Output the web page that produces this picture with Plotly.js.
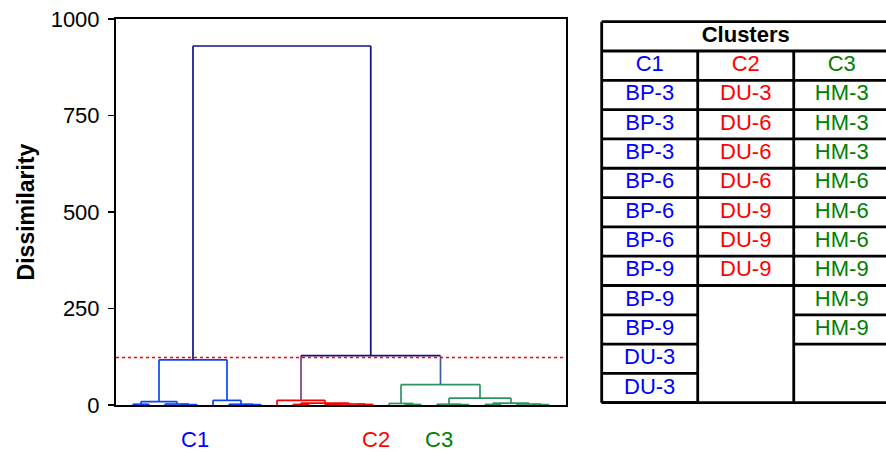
<!DOCTYPE html>
<html><head><meta charset="utf-8">
<script src="https://cdn.plot.ly/plotly-3.0.1.min.js"></script>
<style>html,body{margin:0;padding:0;background:#fff}#chart{width:886px;height:452px}</style>
</head><body><div id="chart"></div>
<script>
// ---- Dendrogram data (agglomerative linkage: node 27+i is merge i) ----
const leafCount = 27;
const mergeLeft   = [0, 3, 2, 27, 7, 6, 5, 30, 10, 12, 14, 36, 35, 9, 17, 16, 20, 19, 25, 24, 22, 47, 44, 42, 40, 34];
const mergeRight  = [1, 4, 28, 29, 8, 31, 32, 33, 11, 13, 15, 37, 38, 39, 18, 41, 21, 43, 26, 45, 23, 46, 48, 49, 50, 51];
const mergeHeight = [2, 1, 2.5, 9, 1, 2, 12, 117, 1.5, 1, 1.5, 2.5, 5, 12, 1.5, 4, 1, 2, 1, 2.5, 1.5, 5, 18, 53, 128, 930];
const cutHeight = 123;
const yTicks = [0, 250, 500, 750, 1000];

// ---- Cluster table data ----
const clusterNames = ['C1', 'C2', 'C3'];
const clusterC1 = ['BP-3','BP-3','BP-3','BP-6','BP-6','BP-6','BP-9','BP-9','BP-9','DU-3','DU-3'];
const clusterC2 = ['DU-3','DU-6','DU-6','DU-6','DU-9','DU-9','DU-9'];
const clusterC3 = ['HM-3','HM-3','HM-3','HM-6','HM-6','HM-6','HM-9','HM-9','HM-9'];
const tableTitle = 'Clusters';

// ---- styles ----
const FONT = 'Liberation Sans, Arial, sans-serif';
const linkColors = ['#0a46f0', '#ff0000', '#2e9462'];
const textColors = ['#0000ff', '#ff0000', '#008000'];
const legTint = ['#10108a', '#7b3f8c', '#3e5e9a'];
const navy = '#10108a';

// ---- compute dendrogram geometry ----
const nNodes = leafCount + mergeHeight.length;
const nodeX = [], nodeH = [], parent = new Array(nNodes).fill(-1);
for (let i = 0; i < leafCount; i++) { nodeX[i] = i; nodeH[i] = 0; }
mergeHeight.forEach((h, i) => {
  const id = leafCount + i, l = mergeLeft[i], r = mergeRight[i];
  nodeX[id] = (nodeX[l] + nodeX[r]) / 2; nodeH[id] = h;
  parent[l] = id; parent[r] = id;
});
const rootId = nNodes - 1;
let roots = [];
for (let id = 0; id < nNodes; id++) {
  if (nodeH[id] < cutHeight && parent[id] >= 0 && nodeH[parent[id]] >= cutHeight) roots.push(id);
}
roots.sort((a, b) => nodeX[a] - nodeX[b]);
const nodeCluster = new Array(nNodes).fill(-1);
function mark(id, c) {
  nodeCluster[id] = c;
  if (id >= leafCount) { const i = id - leafCount; mark(mergeLeft[i], c); mark(mergeRight[i], c); }
}
roots.forEach((r, c) => mark(r, c));

const segs = {};
function addSeg(color, xs, ys) {
  if (!segs[color]) segs[color] = {x: [], y: []};
  segs[color].x.push(...xs, null); segs[color].y.push(...ys, null);
}
mergeHeight.forEach((h, i) => {
  const id = leafCount + i, l = mergeLeft[i], r = mergeRight[i];
  const below = h < cutHeight;
  const barColor = below ? linkColors[nodeCluster[id]] : navy;
  const legColor = (c) => {
    if (below) return linkColors[nodeCluster[id]];
    const k = roots.indexOf(c);
    if (k >= 0 && id !== rootId) return legTint[k];
    return navy;
  };
  addSeg(legColor(l), [nodeX[l], nodeX[l]], [nodeH[l], h]);
  addSeg(barColor, [nodeX[l], nodeX[r]], [h, h]);
  addSeg(legColor(r), [nodeX[r], nodeX[r]], [nodeH[r], h]);
});

const traces = [];
Object.keys(segs).forEach(col => {
  traces.push({type: 'scatter', mode: 'lines', x: segs[col].x, y: segs[col].y,
    line: {color: col, width: 1.7}, hoverinfo: 'skip', showlegend: false, xaxis: 'x', yaxis: 'y'});
});
traces.push({type: 'scatter', mode: 'lines', x: [-1.0625, leafCount + 0.0625], y: [cutHeight, cutHeight],
  line: {color: '#ff0000', width: 1.3, dash: 'dot'}, hoverinfo: 'skip', showlegend: false});

// ---- table geometry ----
const cols = [clusterC1, clusterC2, clusterC3];
const nCols = cols.length;
const maxRows = Math.max(...cols.map(c => c.length));
const totalRows = maxRows + 2;
const tx = [], ty = [], tt = [], tc = [];
tx.push(nCols / 2); ty.push(0.5); tt.push('<b>' + tableTitle + '</b>'); tc.push('#000000');
clusterNames.forEach((n, c) => { tx.push(c + 0.5); ty.push(1.5); tt.push(n); tc.push(textColors[c]); });
cols.forEach((items, c) => items.forEach((s, r) => {
  tx.push(c + 0.5); ty.push(r + 2.5); tt.push(s); tc.push(textColors[c]);
}));
const gx = [], gy = [];
function gl(x0, y0, x1, y1) { gx.push(x0, x1, null); gy.push(y0, y1, null); }
gl(0, 0, nCols, 0); gl(0, 1, nCols, 1); gl(0, 2, nCols, 2); gl(0, totalRows, nCols, totalRows);
cols.forEach((items, c) => items.forEach((s, r) => gl(c, r + 3, c + 1, r + 3)));
gl(0, 0, 0, totalRows);
for (let c = 1; c <= nCols; c++) gl(c, 1, c, totalRows);
gl(nCols, 0, nCols, 1);
traces.push({type: 'scatter', mode: 'lines', x: gx, y: gy, xaxis: 'x2', yaxis: 'y2',
  line: {color: '#000000', width: 2.8}, hoverinfo: 'skip', showlegend: false});
traces.push({type: 'scatter', mode: 'text', x: tx, y: ty, text: tt, xaxis: 'x2', yaxis: 'y2',
  textposition: 'middle center', textfont: {family: FONT, size: 22, color: tc},
  hoverinfo: 'skip', showlegend: false});

const labelX = [3.9, 15.2, 19.15];
const annotations = clusterNames.map((n, c) => ({
  text: n, x: labelX[c], xref: 'x', y: -0.09, yref: 'paper', showarrow: false,
  xanchor: 'center', yanchor: 'middle', font: {family: FONT, size: 22, color: textColors[c]}
}));

const layout = {
  width: 886, height: 452,
  margin: {l: 116, r: 0, t: 19, b: 47, pad: 0},
  paper_bgcolor: '#ffffff', plot_bgcolor: '#ffffff',
  font: {family: FONT, size: 22, color: '#000000'},
  showlegend: false,
  xaxis: {domain: [0, 450 / 770], range: [-1.0625, leafCount + 0.0625], showline: true, mirror: true,
    linecolor: '#000000', linewidth: 2, showticklabels: false, ticks: '', showgrid: false, zeroline: false},
  yaxis: {range: [0, 1000], tickvals: yTicks, ticktext: yTicks.map(String), ticks: 'outside', ticklen: 6,
    tickwidth: 1.5, tickcolor: '#000000', showline: true, mirror: true, linecolor: '#000000', linewidth: 2,
    ticklabelstandoff: 4,
    showgrid: false, zeroline: false, tickfont: {family: FONT, size: 22, color: '#000000'},
    title: {text: '<b>Dissimilarity</b>', font: {family: FONT, size: 23, color: '#000000'}, standoff: 10}},
  xaxis2: {domain: [(598 - 116) / 770, 1], anchor: 'y2', range: [-0.0385, 2.961], visible: false},
  yaxis2: {domain: [0, 1], anchor: 'x2', range: [totalRows + 0.078, -0.092], visible: false},
  annotations: annotations
};
Plotly.newPlot('chart', traces, layout, {staticPlot: true, displayModeBar: false});
</script></body></html>
